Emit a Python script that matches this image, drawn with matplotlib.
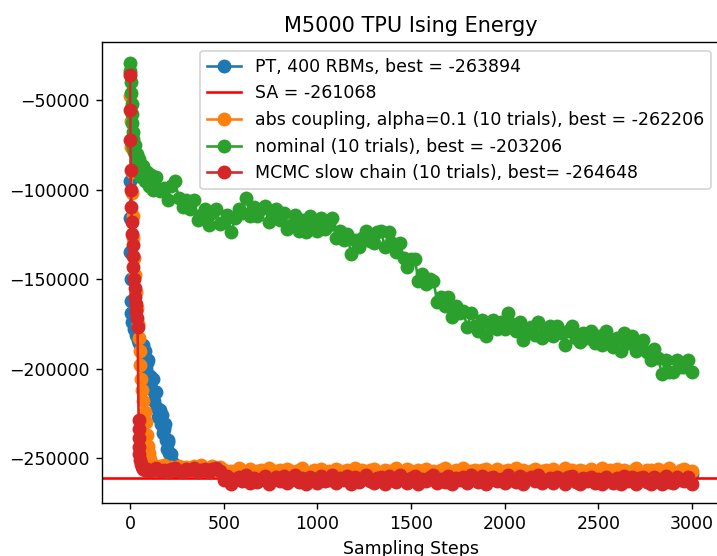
import numpy as np
import matplotlib
matplotlib.use('Agg')
import matplotlib.pyplot as plt

# sampling steps shared by the flat tails (140 ... 3000)
late_steps = np.arange(140, 3001, 20)

# PT, 400 RBMs (blue)
pt_steps = [0, 1, 2, 3, 4, 6, 10, 20, 30, 40, 50, 60,
            70, 75, 80, 85, 90, 95, 100, 105, 110, 115, 120, 125, 130, 135, 140, 145,
            150, 155, 160, 165, 170, 175, 180, 185, 190, 195, 200, 205, 210, 215, 220,
            225, 230, 235, 240, 245, 250, 255]
pt_vals = [-95000, -116000, -135000, -150000, -162000, -169000, -174000, -178000,
           -181000, -184000, -186000, -188000,
           -187000, -194000, -190000, -200000, -197000, -195000, -205000, -204000,
           -211000, -206000, -206000, -213000, -218000, -213000, -213000, -222000,
           -227000, -223000, -223000, -231000, -226000, -236000, -234000, -231000,
           -240000, -245000, -240000, -241000, -247000, -252000, -248000, -254000,
           -252500, -255500, -254500, -256000, -257500, -257000]
pt_tail_steps = np.arange(300, 3001, 60)
pt_tail_vals = [-256800, -257000, -256600, -256900, -259000, -258500, -259300, -258800,
                -259200, -258600, -259400, -258900, -259100, -258700, -259300, -258800,
                -259000, -258600, -259200, -258900, -259400, -258700, -259100, -258800,
                -259300, -258600, -259000, -258900, -259200, -258700, -259400, -258800,
                -259100, -258600, -259300, -258900, -259000, -258700, -259200, -258800,
                -259400, -258600, -259100, -258900, -259000, -258800]

sa_best = -261068

# abs coupling, alpha=0.1 (orange)
abs_steps = [0, 2, 4, 6, 8, 10, 13, 16, 20, 25, 30, 36, 42, 48, 52, 55, 58, 63, 70,
             78, 85, 90, 95, 100, 106, 112, 120, 130]
abs_vals = [-35000, -48000, -62000, -76000, -90000, -102000, -115000, -127000, -138000,
            -148000, -157000, -166000, -175000, -183000, -190000, -198000, -206000,
            -212000, -218000, -224000, -230000, -237000, -243000, -247000, -250500,
            -252500, -254000, -254800]
abs_tail = [-255800, -254600, -254100, -256300, -255100, -256100, -254300, -256600,
            -254800, -255300, -254600, -256300, -254100, -255600, -256100, -254300,
            -256600, -254800,
            -256500, -258200, -257200, -258900, -255800, -257500,
            -258600, -256100, -259300, -257200, -256500, -258200, -255800, -258900,
            -257500, -256800, -258600, -256100,
            -257200, -259300, -256500, -255800, -258200, -258900, -256800, -257900,
            -256100, -258600, -257200, -259300,
            -256100, -257500, -258600, -256800, -259300, -255800, -257900, -256500,
            -258900, -256800, -256100, -258200,
            -259300, -256500, -257200, -258900, -255800, -258200, -258600, -256100,
            -257500, -257900, -256500, -258900,
            -256100, -258600, -257200, -262206, -256500, -255800, -258200, -258900,
            -256800, -257900, -255800, -258900,
            -257500, -256500, -259300, -256800, -256100, -258600, -257900, -256100,
            -259300, -257200, -256500, -258200,
            -255800, -258900, -256800, -258600, -257200, -256100, -259300, -257500,
            -256500, -258200, -256100, -258900,
            -257900, -255800, -258600, -256800, -259300, -256500, -257200, -258900,
            -256100, -258200, -257500, -255800,
            -258900, -256800, -257900, -256100, -259300, -256500, -258600, -257200,
            -255800, -258200, -258900, -256800,
            -256500, -259300, -256100, -257500, -258600, -255800, -257900, -258900,
            -256800, -256100, -259300, -257200]

# nominal (green)
nom_steps = [0, 2, 4, 6, 8, 10, 12, 14, 16, 18, 20, 25, 30, 35, 40, 45, 50, 55, 60,
             70, 80, 90, 100, 110, 120, 130]
nom_vals = [-29500, -34000, -40000, -46000, -52000, -58000, -63000, -68000, -72000,
            -76000, -79000, -75000, -84000, -80000, -88000, -83000, -91000, -85000,
            -93000, -87000, -95000, -90000, -98000, -92000, -100000, -94000]
nom_tail = [-93000, -101000, -99000, -106000, -98000, -95000, -105000, -110000,
            -106000, -111000, -106000, -117000,
            -114000, -111000, -120000, -113000, -111000, -119000, -118000, -114000,
            -124000, -116000, -111000, -113000,
            -105000, -115000, -110000, -115000, -111000, -109000, -118000, -113000,
            -111000, -117000, -113000, -122000,
            -120000, -114000, -123000, -117000, -124000, -115000, -118000, -123000,
            -116000, -122000, -120000, -116000,
            -127000, -123000, -128000, -125000, -136000, -128000, -132000, -127000,
            -123000, -129000, -130000, -124000,
            -123000, -132000, -124000, -130000, -135000, -130000, -138000, -143000,
            -139000, -139000, -151000, -147000,
            -153000, -150000, -151000, -163000, -160000, -165000, -160000, -171000,
            -165000, -169000, -168000, -177000,
            -169000, -176000, -179000, -173000, -182000, -175000, -173000, -178000,
            -174000, -178000, -169000, -175000,
            -179000, -174000, -184000, -179000, -177000, -181000, -174000, -183000,
            -179000, -176000, -182000, -176000,
            -180000, -187000, -179000, -176000, -183000, -185000, -180000, -183000,
            -179000, -186000, -182000, -187000,
            -179000, -184000, -188000, -183000, -190000, -180000, -186000, -182000,
            -190000, -185000, -184000, -191000,
            -195000, -189000, -194000, -203206, -195000, -202000, -202000, -195000,
            -199000, -199000, -195000, -202000]

# MCMC slow chain (red)
mcmc_steps = [0, 1, 2, 3, 5, 7, 9, 11, 13, 15, 18, 21, 24, 27, 30, 33, 36, 40, 45,
              46, 47, 48, 50, 53, 57, 62, 70, 80, 90, 100, 120]
mcmc_vals = [-36000, -55600, -72300, -89000, -100000, -110000, -118000, -125000,
             -131000, -137000, -143000, -150000, -155000, -160000, -164000, -168000,
             -172000, -177000, -229000, -234000, -239000, -244000, -248000, -251000,
             -253500, -255000, -256000, -256500, -256200, -257000, -256400]
mcmc_tail = [-255800, -257400, -256500, -257800, -256000, -255600, -257100, -257600,
             -256300, -256900, -255600, -257600, -256700, -256000, -257800, -256300,
             -255800, -257400,
             -262500, -260000, -264500, -261500, -260500, -263000,
             -259500, -264000, -261000, -263500, -261500, -260000, -264500, -262000,
             -260500, -263000, -260000, -264000,
             -262500, -259500, -263500, -261000, -264500, -260500, -261500, -264000,
             -260000, -263000, -262000, -259500,
             -264000, -261000, -262500, -260000, -264500, -260500, -263500, -261500,
             -259500, -263000, -264000, -261000,
             -260500, -264500, -260000, -262000, -263500, -259500, -262500, -264000,
             -261000, -260000, -264500, -261500,
             -263000, -260500, -259500, -264000, -261500, -263500, -260000, -264500,
             -261000, -262000, -260500, -264000,
             -259500, -262500, -263500, -260000, -264500, -261000, -260500, -263000,
             -261500, -264000, -259500, -262000,
             -263500, -260000, -264500, -261500, -260500, -263000, -259500, -264000,
             -262000, -261000, -263800, -260300,
             -261800, -264600, -260800, -259800, -263300, -264300, -261300, -262800,
             -260300, -263800, -261800, -264648,
             -260300, -262300, -263800, -261300, -264600, -259800, -262800, -260800,
             -264300, -261300, -260300, -263300,
             -264600, -260800, -261800, -264300, -259800, -263300, -263800, -260300,
             -262300, -262800, -260800, -264300]

labels = ['PT, 400 RBMs, best = -263894',
          'SA = -261068',
          'abs coupling, alpha=0.1 (10 trials), best = -262206',
          'nominal (10 trials), best = -203206',
          'MCMC slow chain (10 trials), best= -264648']

DPI = 125
fig = plt.figure(figsize=(717 / DPI, 556 / DPI), dpi=DPI)
ax = fig.add_axes([102 / 717, 53 / 556, 618 / 717, 461 / 556])

ms = 7
pt_x = np.concatenate([pt_steps, pt_tail_steps])
pt_y = np.concatenate([pt_vals, pt_tail_vals])
ax.plot(pt_x, pt_y, 'o-', color='C0', ms=ms, label=labels[0])
ax.axhline(sa_best, color='red', label=labels[1])
ax.plot(np.concatenate([abs_steps, late_steps]), np.concatenate([abs_vals, abs_tail]),
        'o-', color='C1', ms=ms, label=labels[2])
ax.plot(np.concatenate([nom_steps, late_steps]), np.concatenate([nom_vals, nom_tail]),
        'o-', color='C2', ms=ms, label=labels[3])
ax.plot(np.concatenate([mcmc_steps, late_steps]), np.concatenate([mcmc_vals, mcmc_tail]),
        'o-', color='C3', ms=ms, label=labels[4])

ax.set_xlim(-150, 3150)
ax.set_ylim(-275100, -17600)
ax.set_title('M5000 TPU Ising Energy')
ax.set_xlabel('Sampling Steps')
ax.legend(loc='upper right')

fig.savefig('out.png', dpi=DPI)
